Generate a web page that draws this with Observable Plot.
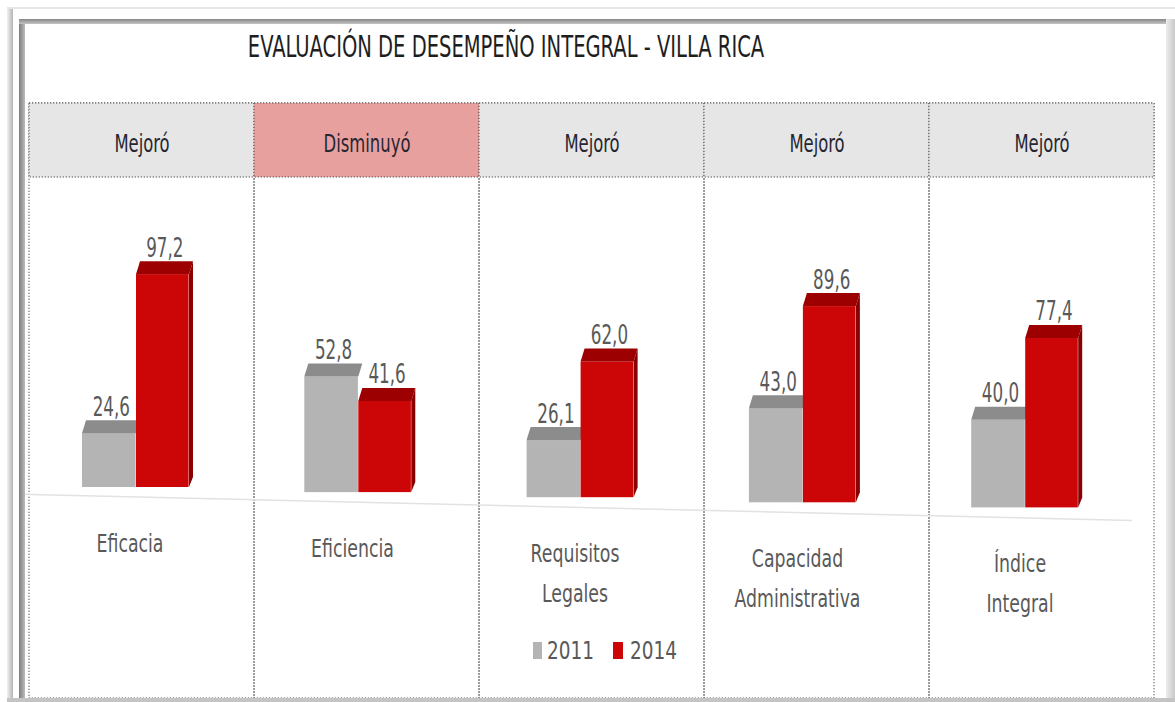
<!DOCTYPE html>
<html>
<head>
<meta charset="utf-8">
<script src="https://cdn.jsdelivr.net/npm/d3@7"></script>
<script src="https://cdn.jsdelivr.net/npm/@observablehq/plot@0.6"></script>
<style>
  body { margin: 0; background: #fff; }
  #wrap { position: relative; width: 1175px; height: 702px; overflow: hidden;
          font-family: "Liberation Sans Narrow", "Arial Narrow", "DejaVu Sans Condensed", sans-serif; }
  .fr { position: absolute; z-index: 2; }
  #chart { position: absolute; left: 0; top: 0; z-index: 1; }
  #title { position: absolute; z-index: 3; left: 0; top: 28px; width: 1012px; text-align: center;
           font-size: 31px; line-height: 36px; color: #1e1e1e; transform: scaleX(0.70); transform-origin: 506px 0; white-space: nowrap; }
  .lg { position: absolute; z-index: 3; }
  .lt { font-size: 25px; color: #595959; line-height: 30px; transform: scaleX(0.82); transform-origin: 0 0; white-space: nowrap; }
</style>
</head>
<body>
<div id="wrap">
  <div class="fr" style="left:7px;top:7px;width:6px;height:695px;background:linear-gradient(to right,#f2f2f2,#b5b5b5);"></div>
  <div class="fr" style="left:7px;top:7px;width:1168px;height:2px;background:#e6e6e6;"></div>
  <div class="fr" style="left:19px;top:19px;width:6px;height:683px;background:linear-gradient(to right,#7d7d7d,#bcbcbc);"></div>
  <div class="fr" style="left:19px;top:19px;width:1156px;height:5px;background:linear-gradient(to bottom,#868686,#c4c4c4);"></div>
  <div class="fr" style="left:1166px;top:19px;width:9px;height:683px;background:linear-gradient(to right,#ececec,#c8c8c8);"></div>
  <div class="fr" style="left:7px;top:698px;width:1168px;height:4px;background:#c4c4c4;"></div>
  <div id="title">EVALUACIÓN DE DESEMPEÑO INTEGRAL - VILLA RICA</div>
  <div id="chart"></div>
  <div id="legend"></div>
</div>
<script>
// ---- data ----
const categorias = ["Eficacia", "Eficiencia", "Requisitos Legales", "Capacidad Administrativa", "Índice Integral"];
const estados = ["Mejoró", "Disminuyó", "Mejoró", "Mejoró", "Mejoró"];
const series = ["2011", "2014"];
const valores2011 = [24.6, 52.8, 26.1, 43.0, 40.0];
const valores2014 = [97.2, 41.6, 62.0, 89.6, 77.4];

// ---- tables built from the arrays ----
const cabecera = categorias.map((c, i) => ({cat: c, estado: estados[i]}));
const filas = categorias.flatMap((c, i) => [
  {cat: c, serie: series[0], valor: valores2011[i], i, s: 0},
  {cat: c, serie: series[1], valor: valores2014[i], i, s: 1}
]);

// ---- styling / perspective ----
const W = 1175, H = 702, ML = 28, MR = 20, MT = 103, MB = 4;
const BW = (W - ML - MR) / categorias.length;
const frente = ["#b4b4b4", "#cc0606"];
const tapa = ["#8c8c8c", "#9c0000"];
const lado = "#8a0000";
const anchoBarra = [54, 53];
const off = i => 53 - 2.7 * i;          // group offset inside its column
const tilt = i => 5.1 * i;               // floor perspective
const DX = 4, DY = 13;
const fmt = v => d3.format(".1f")(v).replace(".", ",");
const fuente = '"Liberation Sans Narrow", "Arial Narrow", "DejaVu Sans Condensed", sans-serif';
// horizontal compression per text size (the original is squeezed sideways)
const compresion = {24: 0.76, 27: 0.69, 25: 0.77};

const marks = [];

// column outlines (dotted)
marks.push(Plot.cell(categorias, {x: d => d, fill: "none", stroke: "#555", strokeWidth: 1, strokeDasharray: "1.3,1.7"}));
// header cells
marks.push(Plot.cell(cabecera, {x: "cat", fill: "estado", stroke: "#555", strokeWidth: 1, strokeDasharray: "1.3,1.7",
  insetBottom: (H - MT - MB) - 74}));
marks.push(Plot.text(cabecera, {x: "cat", text: "estado", frameAnchor: "top", dy: 31, fontSize: 24, fill: "#262633"}));

// floor line
marks.push((index, scales) => {
  const y0 = scales.y(0);
  const g = d3.create("svg:g");
  g.append("line").attr("x1", 20).attr("x2", 1132)
    .attr("y1", y0 + 10 + 0.0235 * (20 - 135)).attr("y2", y0 + 10 + 0.0235 * (1132 - 135))
    .attr("stroke", "#e2e2e2").attr("stroke-width", 1.5);
  return g.node();
});

function caras(s) {
  return (index, scales) => {
    const g = d3.create("svg:g");
    for (const d of filas.filter(r => r.s === s)) {
      const x0 = scales.x(d.cat) + off(d.i) + (s === 1 ? anchoBarra[0] : 0);
      const w = anchoBarra[s];
      const top = scales.y(d.valor) + tilt(d.i);
      const bot = scales.y(0) + tilt(d.i);
      g.append("polygon")
        .attr("points", [[x0, top], [x0 + w, top], [x0 + w + DX, top - DY], [x0 + DX, top - DY]].join(" "))
        .attr("fill", tapa[s]);
      if (s === 1) {
        g.append("polygon")
          .attr("points", [[x0 + w, top], [x0 + w + DX, top - DY], [x0 + w + DX, bot - DY + 3], [x0 + w, bot]].join(" "))
          .attr("fill", lado);
      }
    }
    return g.node();
  };
}

for (const s of [0, 1]) {
  for (let i = 0; i < categorias.length; i++) {
    const l = off(i) + (s === 1 ? anchoBarra[0] : 0);
    marks.push(Plot.barY(filas.filter(r => r.s === s && r.i === i), {
      x: "cat", y: "valor", fill: frente[s],
      insetLeft: l, insetRight: BW - l - anchoBarra[s], dy: tilt(i)
    }));
  }
  marks.push(caras(s));
}

// value labels
for (const d of filas) {
  const center = off(d.i) + (d.s === 1 ? anchoBarra[0] : 0) + anchoBarra[d.s] / 2 + 2;
  marks.push(Plot.text([d], {x: "cat", y: "valor", text: r => fmt(r.valor), dx: center - BW / 2,
    dy: tilt(d.i) - 18, lineAnchor: "bottom", fontSize: 27, fill: "#595959"}));
}

// category labels
for (let i = 0; i < categorias.length; i++) {
  marks.push(Plot.text([categorias[i]], {x: d => d, y: () => 0, text: d => d.replace(" ", "\n"),
    dx: -12 - 2.5 * i, dy: tilt(i) + 36, lineAnchor: "top", lineHeight: 1.6, fontSize: 25, fill: "#595959"}));
}

const plot = Plot.plot({
  width: W, height: H,
  marginLeft: ML, marginRight: MR, marginTop: MT, marginBottom: MB,
  style: {background: "transparent", fontFamily: fuente},
  x: {type: "band", domain: categorias, padding: 0, axis: null},
  y: {domain: [0, 100], range: [487, 268], axis: null},
  color: {type: "ordinal", domain: ["Mejoró", "Disminuyó"], range: ["#e6e6e6", "#e8a09e"]},
  marks
});
document.getElementById("chart").appendChild(plot);

// squeeze texts horizontally (the original is compressed sideways) without moving them
plot.querySelectorAll("text").forEach(t => {
  let el = t, fs = null;
  while (el && el !== plot.parentNode && !fs) { fs = el.getAttribute && el.getAttribute("font-size"); el = el.parentNode; }
  const k = compresion[parseFloat(fs)];
  if (!k) return;
  const spans = t.querySelectorAll("tspan");
  const targets = spans.length ? Array.from(spans) : [t];
  targets.forEach(e => {
    const L = e.getComputedTextLength();
    if (L > 0) {
      e.setAttribute("textLength", (L * k).toFixed(2));
      e.setAttribute("lengthAdjust", "spacingAndGlyphs");
    }
  });
});

// legend (HTML, over the plot area)
const legend = document.getElementById("legend");
const lx = [533, 613];
series.forEach((s, k) => {
  const sw = document.createElement("div");
  sw.className = "lg";
  sw.style.cssText = `left:${lx[k]}px;top:642px;width:${k ? 10 : 9}px;height:17px;background:${frente[k]}`;
  legend.appendChild(sw);
  const tx = document.createElement("div");
  tx.className = "lg lt";
  tx.style.left = (lx[k] + (k ? 17 : 14)) + "px";
  tx.style.top = "636px";
  tx.textContent = s;
  legend.appendChild(tx);
});
</script>
</body>
</html>
